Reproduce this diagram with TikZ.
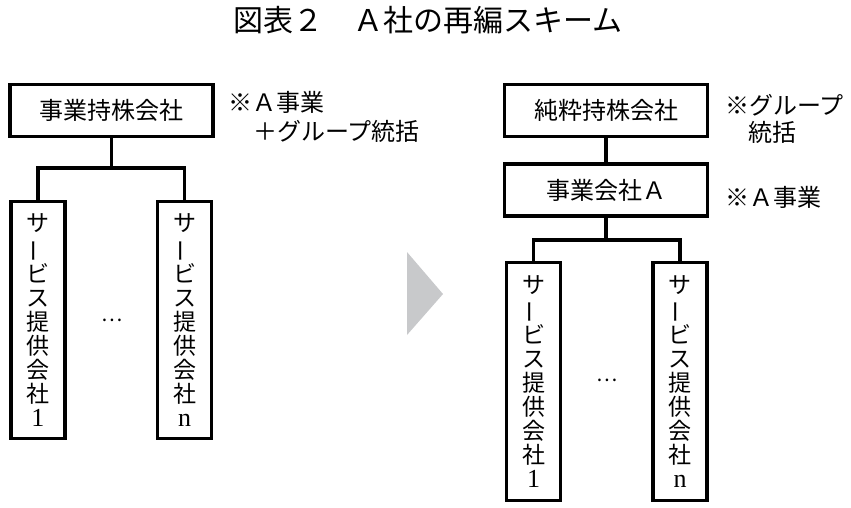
\documentclass[tikz,border=0pt]{standalone}
\usepackage{fontspec}
\usepackage{graphicx}
\setmainfont{Liberation Serif}
\newfontfamily\cjk{Noto Sans CJK JP}
\newcommand{\vbar}{\rotatebox[origin=c]{90}{ー}}
\newcommand{\lat}[1]{{\rmfamily\fontsize{26}{24}\selectfont #1}}
\tikzset{
  box/.style={draw=black, line width=3.2pt, rectangle, inner sep=0pt, font=\cjk\fontsize{24}{24}\selectfont},
  vbox/.style={box, font=\cjk\fontsize{23}{24}\selectfont, minimum width=54pt, minimum height=237pt, align=center},
  hbox/.style={box, minimum width=203pt, minimum height=52pt},
  link/.style={line width=3.2pt, line cap=rect},
  note/.style={anchor=west, inner sep=0pt, font=\cjk\fontsize{24}{26}\selectfont},
  dotsn/.style={inner sep=0pt, font=\cjk\fontsize{20}{20}\selectfont}
}
\begin{document}
\begin{tikzpicture}[x=1pt, y=-1pt]
\useasboundingbox (0,0) rectangle (851,507);
% title
\node[inner sep=0pt, font=\cjk\fontsize{30}{30}\selectfont] (title) at (428,20) {図表２　Ａ社の再編スキーム};

% left structure
\node[hbox] (ltop) at (111.5,110.5) {事業持株会社};
\node[vbox] (lc1) at (38,320) {サ\\\vbar\\ビ\\ス\\提\\供\\会\\社\\\lat{1}};
\node[vbox] (lcn) at (184.5,320) {サ\\\vbar\\ビ\\ス\\提\\供\\会\\社\\\lat{n}};
\node[dotsn] (ldots) at (112,320) {…};
\coordinate (lbus) at (111.5,168);
\draw[link] (ltop.south) -- (lbus);
\draw[link] (lc1.north) |- (lbus) -| (lcn.north);
\node[note] (ln1) at (228,102) {※Ａ事業};
\node[note] (ln2) at (253,131) {＋グループ統括};

% arrow
\fill[fill={rgb,255:red,200;green,201;blue,203}] (407,252) -- (443,294) -- (407,335) -- cycle;

% right structure
\node[hbox] (rtop) at (606,110.5) {純粋持株会社};
\node[hbox] (rmid) at (606,190) {事業会社Ａ};
\node[vbox, minimum height=238pt] (rc1) at (533.5,381.5) {サ\\\vbar\\ビ\\ス\\提\\供\\会\\社\\\lat{1}};
\node[vbox, minimum height=238pt] (rcn) at (680,381.5) {サ\\\vbar\\ビ\\ス\\提\\供\\会\\社\\\lat{n}};
\node[dotsn] (rdots) at (607,380) {…};
\coordinate (rbus) at (606,240);
\draw[link] (rtop.south) -- (rmid.north);
\draw[link] (rmid.south) -- (rbus);
\draw[link] (rc1.north) |- (rbus) -| (rcn.north);
\node[note] (rn1) at (725,105) {※グループ};
\node[note] (rn2) at (748,132) {統括};
\node[note] (rn3) at (725,197) {※Ａ事業};
\end{tikzpicture}
\end{document}
